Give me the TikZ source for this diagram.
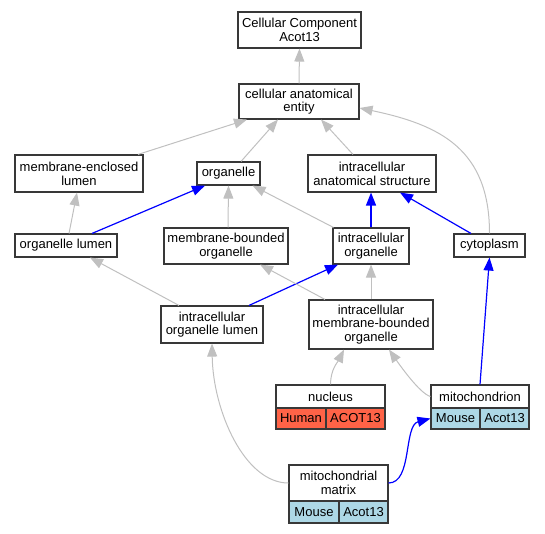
\documentclass[tikz,border=0pt]{standalone}
\usepackage{fontspec}
\setmainfont{Liberation Sans}
\usepackage{xcolor}
\usetikzlibrary{arrows.meta, positioning}
\definecolor{edgegray}{HTML}{C0C0C0}
\definecolor{human}{HTML}{FF6347}
\definecolor{mouse}{HTML}{ADD8E6}

\begin{document}
\begin{tikzpicture}[x=1pt, y=-1pt,
		box/.style={draw=black!78, line width=1.1pt, fill=white, inner sep=0pt, align=center, font=\fontsize{13}{13.7}\selectfont},
		isa/.style={draw=edgegray, line width=1pt, -{Triangle[length=13pt,width=10pt]}},
		partof/.style={draw=blue, line width=1.2pt, -{Triangle[length=13pt,width=10pt]}}]
		\useasboundingbox (0,0) rectangle (545,533);
		
		\draw (299.5,30)   node[box, minimum width=123pt, minimum height=36pt] (top) {Cellular Component\\Acot13}
		(299,101.5)  node[box, minimum width=120pt, minimum height=35pt] (cae) {cellular anatomical\\entity}
		(79,173.5)   node[box, minimum width=128pt, minimum height=37pt] (mel) {membrane-enclosed\\lumen}
		(228.5,173.5) node[box, minimum width=63pt, minimum height=23pt] (org) {organelle}
		(372,173.5)  node[box, minimum width=128pt, minimum height=37pt] (ias) {intracellular\\anatomical structure}
		(66,245.5)   node[box, minimum width=102pt, minimum height=23pt] (ol) {organelle lumen}
		(226,246)    node[box, minimum width=124pt, minimum height=36pt] (mbo) {membrane-bounded\\organelle}
		(371,246)    node[box, minimum width=76pt, minimum height=36pt] (io) {intracellular\\organelle}
		(489.5,245.5) node[box, minimum width=71pt, minimum height=23pt] (cyt) {cytoplasm}
		(212,324.5)  node[box, minimum width=102pt, minimum height=37pt] (iol) {intracellular\\organelle lumen}
		(371,324.5)  node[box, minimum width=124pt, minimum height=49pt] (imbo) {intracellular\\membrane-bounded\\organelle};
		
		% gene tables
		\draw (330.5,396.5) node[box, minimum width=109pt, minimum height=23pt] (nuc) {nucleus}
		(301,418.5)   node[box, fill=human, minimum width=50pt, minimum height=21pt] (nucA) {Human}
		(355.5,418.5) node[box, fill=human, minimum width=59pt, minimum height=21pt] (nucB) {ACOT13}
		(480,396.5)   node[box, minimum width=98pt, minimum height=23pt] (mito) {mitochondrion}
		(455.5,418.5) node[box, fill=mouse, minimum width=49pt, minimum height=21pt] (mitoA) {Mouse}
		(504.5,418.5) node[box, fill=mouse, minimum width=49pt, minimum height=21pt] (mitoB) {Acot13}
		(338.5,483)   node[box, minimum width=99pt, minimum height=36pt] (mm) {mitochondrial\\matrix}
		(314,512)     node[box, fill=mouse, minimum width=50pt, minimum height=22pt] (mmA) {Mouse}
		(363.5,512)   node[box, fill=mouse, minimum width=49pt, minimum height=22pt] (mmB) {Acot13};
		
		\draw[isa] (cae.north) -- (top.south);
		\draw[isa] ([xshift=59pt]mel.north) -- ([xshift=-52pt]cae.south);
		\draw[isa] ([xshift=12.5pt]org.north) -- ([xshift=-21pt]cae.south);
		\draw[isa] ([xshift=-19pt]ias.north) -- ([xshift=22pt]cae.south);
		\draw[isa] (cyt.north) .. controls +(0,-84) and +(81,17) .. ([yshift=-6.5pt]cae.east);
		\draw[isa] ([xshift=3pt]ol.north) -- ([xshift=-2pt]mel.south);
		\draw[partof] ([xshift=26pt]ol.north) -- ([xshift=-23.5pt]org.south);
		\draw[isa] ([xshift=2pt]mbo.north) -- (org.south);
		\draw[isa] ([xshift=1pt]io.north west) -- ([xshift=-8pt]org.south east);
		\draw[partof] (io.north) -- (io.north |- ias.south);
		\draw[partof] ([xshift=-18.5pt]cyt.north) -- ([xshift=28pt]ias.south);
		\draw[isa] ([xshift=-33pt]iol.north) -- ([xshift=24pt]ol.south);
		\draw[partof] ([xshift=37pt]iol.north) -- ([xshift=-33pt]io.south);
		\draw[isa] ([xshift=-46pt]imbo.north) -- ([xshift=34pt]mbo.south);
		\draw[isa] (imbo.north) -- (io.south);
		\draw[isa] (nuc.north) .. controls +(0,-15) and +(-6,12) .. ([xshift=-27pt]imbo.south);
		\draw[isa] (mito.west) .. controls +(-11,-3) and +(9,13) .. ([xshift=18pt]imbo.south);
		\draw[partof] (mito.north) -- (cyt.south);
		\draw[isa] (mm.west) .. controls +(-44,0) and +(1,67) .. (iol.south);
		\draw[partof] (mm.east) .. controls +(24,0) and +(-27,7) .. (mitoA.west);
	\end{tikzpicture}
\end{document}
